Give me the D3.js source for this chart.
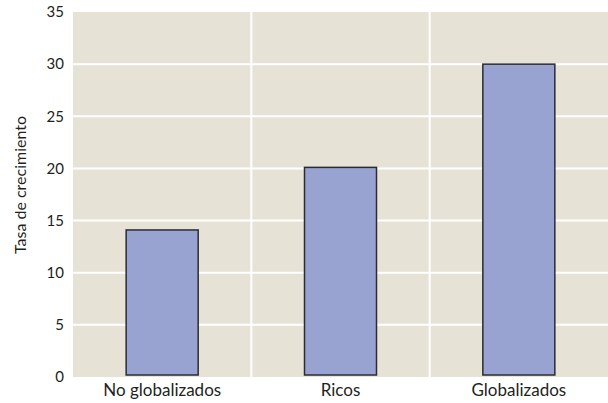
<!DOCTYPE html>
<html><head><meta charset="utf-8">
<script src="https://cdn.jsdelivr.net/npm/d3@7"></script>
<style>
html,body{margin:0;padding:0;background:#fff;}
text{font-family:"Lato","Open Sans",sans-serif;fill:#231f20;}
</style></head>
<body><svg id="c" width="608" height="403"></svg>
<script>
const categories = ["No globalizados", "Ricos", "Globalizados"];
const values = [14.1, 20.1, 30];
const yTicks = [0, 5, 10, 15, 20, 25, 30, 35];
const yTitle = "Tasa de crecimiento";

const svg = d3.select("#c");
const m = {left: 73, right: 0, top: 12, bottom: 26};
const W = 608, H = 403;
const x = d3.scaleBand().domain(categories).range([m.left, W - m.right]).paddingInner(0).paddingOuter(0);
const y = d3.scaleLinear().domain([0, 35]).range([H - m.bottom, m.top]);

svg.append("rect").attr("x", m.left).attr("y", y(35)).attr("width", W - m.right - m.left)
  .attr("height", y(0) - y(35)).attr("fill", "#e6e3d6");

// grid
svg.append("g").selectAll("line").data(yTicks.filter(d => d > 0 && d < 35)).join("line")
  .attr("x1", m.left).attr("x2", W).attr("y1", d => y(d)).attr("y2", d => y(d))
  .attr("stroke", "#fff").attr("stroke-width", 2);
svg.append("g").selectAll("line").data(categories.slice(1)).join("line")
  .attr("x1", d => x(d)).attr("x2", d => x(d)).attr("y1", y(35)).attr("y2", y(0))
  .attr("stroke", "#fff").attr("stroke-width", 2);

// bars
const bw = 72;
svg.append("g").selectAll("rect").data(values).join("rect")
  .attr("x", (d, i) => x(categories[i]) + x.bandwidth() / 2 - bw / 2)
  .attr("width", bw)
  .attr("y", d => y(d))
  .attr("height", d => y(0) - 2 - y(d))
  .attr("fill", "#99a3d1").attr("stroke", "#2b2b30").attr("stroke-width", 1.5);

// y axis
const ya = svg.append("g").attr("transform", `translate(${m.left},0)`)
  .call(d3.axisLeft(y).tickValues(yTicks).tickSize(0).tickPadding(9));
ya.select(".domain").remove();
ya.selectAll("text").attr("font-size", 15).attr("font-family", "Lato, sans-serif").attr("fill", "#231f20");

// x axis
const xa = svg.append("g").attr("transform", `translate(0,${y(0)})`)
  .call(d3.axisBottom(x).tickSize(0).tickPadding(7));
xa.select(".domain").remove();
xa.selectAll("text").attr("font-size", 17).attr("font-family", "Lato, sans-serif").attr("fill", "#231f20");

svg.append("text").attr("transform", `translate(22,185) rotate(-90)`)
  .attr("text-anchor", "middle").attr("dominant-baseline", "middle")
  .attr("font-size", 16).text(yTitle);
</script></body></html>
